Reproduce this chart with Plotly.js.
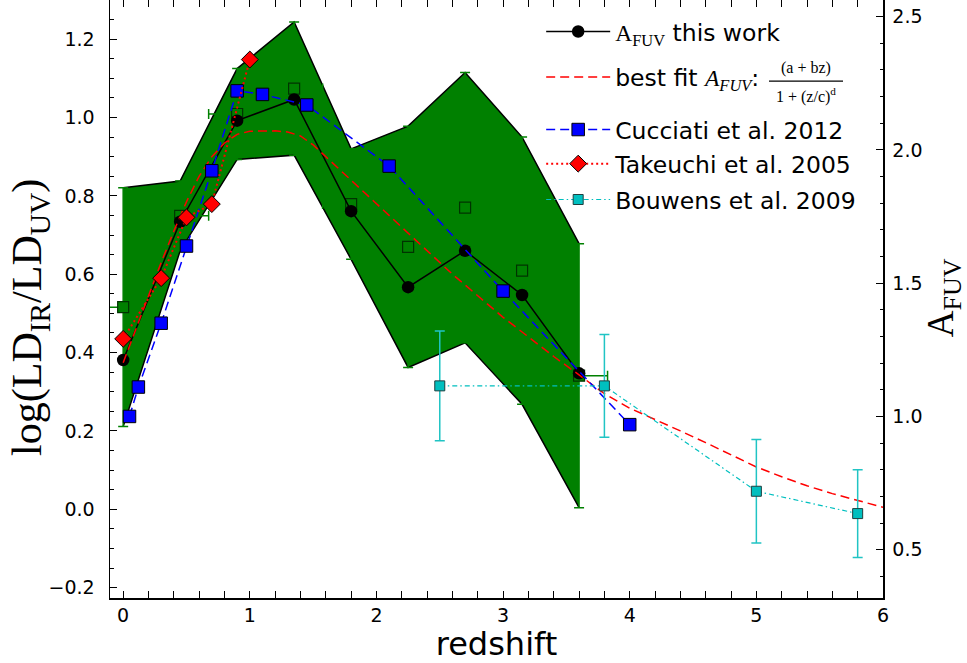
<!DOCTYPE html>
<html><head><meta charset="utf-8">
<script src="https://cdn.plot.ly/plotly-3.0.1.min.js"></script>
<style>html,body{margin:0;padding:0;background:#fff}#chart{width:967px;height:663px}</style>
</head><body><div id="chart"></div>
<script>
// ---- data ----
const thisWorkZ = [0.0, 0.45, 0.9, 1.35, 1.8, 2.25, 2.7, 3.15, 3.6];
const thisWorkA = [0.381, 0.734, 0.992, 1.046, 0.761, 0.567, 0.660, 0.547, 0.347];
const squaresV   = [0.516, 0.749, 1.009, 1.074, 0.779, 0.670, 0.770, 0.609, 0.341];
const squaresErr = [0.305, 0.089, 0.116, 0.170, 0.141, 0.308, 0.345, 0.341, 0.337];
const squaresXErr = 0.225;

const fitZ = [0, 0.1, 0.2, 0.3, 0.4, 0.5, 0.6, 0.7, 0.8, 0.9, 1.0, 1.1, 1.2, 1.3, 1.4, 1.5, 1.6, 1.7, 1.8, 2.0, 2.2, 2.4, 2.6, 2.8, 3.0, 3.2, 3.4, 3.6, 3.8, 4.0, 4.2, 4.4, 4.6, 4.8, 5.0, 5.2, 5.4, 5.6, 5.8, 6.0];
const fitV = [0.374, 0.46, 0.545, 0.63, 0.71, 0.785, 0.85, 0.9, 0.935, 0.957, 0.965, 0.966, 0.966, 0.963, 0.953, 0.93, 0.9, 0.87, 0.84, 0.78, 0.72, 0.66, 0.6, 0.545, 0.49, 0.44, 0.39, 0.343, 0.295, 0.258, 0.23, 0.2, 0.17, 0.138, 0.108, 0.083, 0.06, 0.04, 0.022, 0.005];

const cucciatiZ = [0.05, 0.12, 0.3, 0.5, 0.7, 0.9, 1.1, 1.45, 2.1, 3.0, 4.0];
const cucciatiV = [0.237, 0.312, 0.475, 0.672, 0.864, 1.068, 1.059, 1.032, 0.876, 0.557, 0.216];

const takeuchiZ = [0.0, 0.3, 0.5, 0.7, 1.0];
const takeuchiV = [0.435, 0.590, 0.745, 0.779, 1.148];

const bouwensZ = [2.5, 3.8, 5.0, 5.8];
const bouwensV = [0.315, 0.315, 0.046, -0.011];
const bouwensErr = [0.14, 0.131, 0.132, 0.112];

const xTickVals = [0, 1, 2, 3, 4, 5, 6];
const legendNames = [
  '<span style="font-family:Liberation Serif">A<sub>FUV</sub></span> this work',
  'best fit <span style="font-family:Liberation Serif"><i>A<sub>FUV</sub></i></span>:',
  'Cucciati et al. 2012',
  'Takeuchi et al. 2005',
  'Bouwens et al. 2009'
];

// ---- derived band ----
const bandUpper = squaresV.map((v, i) => v + squaresErr[i]);
const bandLower = squaresV.map((v, i) => v - squaresErr[i]);

const GREEN = '#008000';
const sans = 'DejaVu Sans, sans-serif';
const serif = 'Liberation Serif, serif';

const traces = [
  { x: thisWorkZ.concat(thisWorkZ.slice().reverse()),
    y: bandUpper.concat(bandLower.slice().reverse()),
    mode: 'lines', fill: 'toself', fillcolor: GREEN, line: {width: 0, color: GREEN},
    showlegend: false, hoverinfo: 'skip' },
  { x: thisWorkZ, y: bandUpper, mode: 'lines', line: {color: '#000', width: 1.5}, showlegend: false },
  { x: thisWorkZ, y: bandLower, mode: 'lines', line: {color: '#000', width: 1.5}, showlegend: false },
  { x: thisWorkZ, y: squaresV, mode: 'markers', showlegend: false,
    marker: {symbol: 'square', size: 11, color: GREEN, line: {color: '#003300', width: 1.2}},
    error_y: {type: 'data', array: squaresErr, visible: true, color: GREEN, thickness: 1.5, width: 5},
    error_x: {type: 'constant', value: squaresXErr, visible: true, color: GREEN, thickness: 1.5, width: 5} },
  { x: thisWorkZ, y: thisWorkA, mode: 'lines+markers', name: legendNames[0], legend: 'legend',
    line: {color: '#000', width: 1.5},
    marker: {symbol: 'circle', size: 12.5, color: '#000'} },
  { x: fitZ, y: fitV, mode: 'lines', name: legendNames[1], legend: 'legend2',
    line: {color: '#ff0000', width: 1.5, dash: '9px,5px'} },
  { x: cucciatiZ, y: cucciatiV, mode: 'lines+markers', name: legendNames[2], legend: 'legend3',
    line: {color: '#0000ff', width: 1.5, dash: '9px,5px'},
    marker: {symbol: 'square', size: 12.5, color: '#0000ff', line: {color: '#000', width: 1}} },
  { x: takeuchiZ, y: takeuchiV, mode: 'lines+markers', name: legendNames[3], legend: 'legend4',
    line: {color: '#ff0000', width: 2, dash: '2px,3px'},
    marker: {symbol: 'diamond', size: 13, color: '#ff0000', line: {color: '#000', width: 1}} },
  { x: bouwensZ, y: bouwensV, mode: 'lines+markers', name: legendNames[4], legend: 'legend5',
    line: {color: '#00bfbf', width: 1.2, dash: '5px,3px,1.5px,3px'},
    marker: {symbol: 'square', size: 10, color: '#00bfbf', line: {color: '#1f3f3f', width: 1}},
    error_y: {type: 'data', array: bouwensErr, visible: true, color: '#20c4c4', thickness: 1.5, width: 5} },
  // empty trace so that the right-hand A_FUV axis is drawn
  { x: [], y: [], yaxis: 'y2', mode: 'markers', showlegend: false, hoverinfo: 'skip' }
];

function leg(xp, yp) {
  return { x: xp, y: yp, xanchor: 'left', yanchor: 'middle', bgcolor: 'rgba(0,0,0,0)',
           borderwidth: 0, font: {family: sans, size: 23.5, color: '#000'}, itemwidth: 64 };
}
const legX = 0.5578;

const axisCommon = {
  ticks: 'inside', ticklen: 7, tickwidth: 1, tickcolor: '#000',
  showline: true, linecolor: '#000', linewidth: 1.5,
  showgrid: false, zeroline: false,
  tickfont: {family: sans, size: 19, color: '#000'}
};

const layout = {
  width: 967, height: 663,
  margin: {l: 110, r: 84, t: 0, b: 65},
  paper_bgcolor: '#fff', plot_bgcolor: '#fff',
  xaxis: Object.assign({}, axisCommon, {
    range: [-0.104, 6.0], tickvals: xTickVals, mirror: 'allticks',
    minor: {dtick: 0.2, tick0: 0, ticks: 'inside', ticklen: 3.5, tickcolor: '#000', showgrid: false},
    title: {text: 'redshift', font: {family: sans, size: 32, color: '#000'}, standoff: 4}
  }),
  yaxis: Object.assign({}, axisCommon, {
    range: [-0.2265, 1.30], dtick: 0.2, tick0: 0, tickformat: '.1f', mirror: true,
    ticklabelstandoff: 10,
    minor: {dtick: 0.05, tick0: 0, ticks: 'inside', ticklen: 3.5, tickcolor: '#000', showgrid: false}
  }),
  yaxis2: Object.assign({}, axisCommon, {
    overlaying: 'y', side: 'right', anchor: 'x',
    range: [0.319, 2.5625], dtick: 0.5, tick0: 0, tickformat: '.1f',
    ticklabelstandoff: 4,
    minor: {dtick: 0.1, tick0: 0, ticks: 'inside', ticklen: 3.5, tickcolor: '#000', showgrid: false}
  }),
  legend: leg(legX, 0.947),
  legend2: leg(legX, 0.871),
  legend3: leg(legX, 0.783),
  legend4: leg(legX, 0.726),
  legend5: leg(legX, 0.666),
  shapes: [
    {type: 'line', xref: 'paper', yref: 'paper', x0: 0.8525, x1: 0.9483, y0: 0.8645, y1: 0.8645,
     line: {color: '#000', width: 1.2}}
  ],
  annotations: [
    {xref: 'paper', yref: 'paper', x: 0.9004, y: 0.8863, text: '(a + bz)', showarrow: false,
     xanchor: 'center', yanchor: 'middle', font: {family: serif, size: 16, color: '#000'}},
    {xref: 'paper', yref: 'paper', x: 0.9004, y: 0.8411, text: '1 + (z/c)<sup>d</sup>', showarrow: false,
     xanchor: 'center', yanchor: 'middle', font: {family: serif, size: 16, color: '#000'}},
    {xref: 'paper', yref: 'paper', x: -0.1035, y: 0.47, text: 'log(LD<sub>IR</sub>/LD<sub>UV</sub>)',
     textangle: -90, showarrow: false, xanchor: 'center', yanchor: 'middle',
     font: {family: serif, size: 42, color: '#000'}},
    {xref: 'paper', yref: 'paper', x: 1.0776, y: 0.503, text: 'A<sub>FUV</sub>',
     textangle: -90, showarrow: false, xanchor: 'center', yanchor: 'middle',
     font: {family: serif, size: 37, color: '#000'}}
  ]
};

Plotly.newPlot('chart', traces, layout, {displayModeBar: false, staticPlot: true});
</script>
</body></html>
